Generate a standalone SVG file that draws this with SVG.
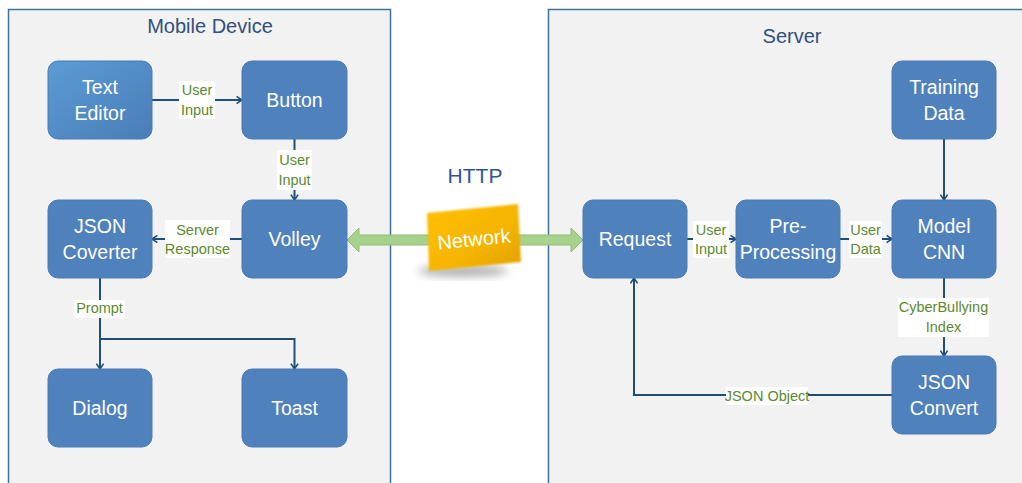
<svg xmlns="http://www.w3.org/2000/svg" width="1022" height="483" viewBox="0 0 1022 483">
<style>
.cont{fill:#F2F2F2;stroke:#41719C;stroke-width:1.5}
.title{font-family:"Liberation Sans",Arial,sans-serif;font-size:20px;fill:#2F5080;text-anchor:middle}
.node{fill:#4F81BD;stroke:#4A7AB3;stroke-width:1}
.nt{font-family:"Liberation Sans",Arial,sans-serif;font-size:19.5px;fill:#FFFFFF;text-anchor:middle}
.edge{fill:none;stroke:#1F4E79;stroke-width:2}
.lbg{fill:#FFFFFF}
.lt{font-family:"Liberation Sans",Arial,sans-serif;font-size:14.5px;fill:#5B8A2E;text-anchor:middle}
</style>
<defs>
<marker id="arr" viewBox="0 0 10 10" refX="9" refY="5" markerWidth="9" markerHeight="9" markerUnits="userSpaceOnUse" orient="auto">
<path d="M3,1 L9,5 L3,9" fill="none" stroke="#1F4E79" stroke-width="1.8"/>
</marker>
<linearGradient id="gTE" x1="0" y1="0" x2="1" y2="1">
<stop offset="0" stop-color="#5B9BD5"/>
<stop offset="1" stop-color="#4A7DB8"/>
</linearGradient>
<linearGradient id="gNet" x1="0" y1="0" x2="1" y2="1">
<stop offset="0" stop-color="#FFC000"/>
<stop offset="0.6" stop-color="#F5B400"/>
<stop offset="1" stop-color="#E0A000"/>
</linearGradient>
<filter id="blur" x="-30%" y="-30%" width="160%" height="160%">
<feGaussianBlur stdDeviation="4"/>
</filter>
<filter id="soft" x="-10%" y="-10%" width="120%" height="120%">
<feGaussianBlur stdDeviation="1"/>
</filter>
</defs>
<rect x="0" y="0" width="1022" height="483" fill="#FFFFFF"/>
<g id="mobile-device">
<rect class="cont" x="8.5" y="9.5" width="382" height="480"/>
<text class="title" x="210" y="33">Mobile Device</text>
</g>
<g id="server">
<rect class="cont" x="548.5" y="9.5" width="480" height="480"/>
<text class="title" x="792" y="43">Server</text>
</g>
<text id="http" class="title" x="475" y="183" style="font-size:21px;fill:#2F5597">HTTP</text>

<g id="connectors">
<path class="edge" d="M152,100 H242" marker-end="url(#arr)"/>
<path class="edge" d="M294.5,139 V200" marker-end="url(#arr)"/>
<path class="edge" d="M242,239 H152" marker-end="url(#arr)"/>
<path class="edge" d="M100,278 V369" marker-end="url(#arr)"/>
<path class="edge" d="M100,339 H294.5 V369" marker-end="url(#arr)"/>
<path class="edge" d="M944,139 V200" marker-end="url(#arr)"/>
<path class="edge" d="M687,239 H736" marker-end="url(#arr)"/>
<path class="edge" d="M840,239 H892" marker-end="url(#arr)"/>
<path class="edge" d="M944,278 V356" marker-end="url(#arr)"/>
<path class="edge" d="M892,395 H634 V278" marker-end="url(#arr)"/>
<path id="network-arrow" d="M347,240 L359,228 L359,235 L571,235 L571,228 L583,240 L571,252 L571,245 L359,245 L359,252 Z" fill="#A9D18E" stroke="#8CBF6E" stroke-width="1"/>

<rect class="lbg" x="179" y="81" width="36" height="38"/>
<text class="lt" x="197" y="95">User</text>
<text class="lt" x="197" y="115">Input</text>
<rect class="lbg" x="277" y="150" width="35" height="40"/>
<text class="lt" x="294.5" y="165">User</text>
<text class="lt" x="294.5" y="185">Input</text>
<rect class="lbg" x="165" y="220" width="65" height="38"/>
<text class="lt" x="197.5" y="235">Server</text>
<text class="lt" x="197.5" y="254">Response</text>
<rect class="lbg" x="74" y="300" width="51" height="18"/>
<text class="lt" x="99.5" y="313">Prompt</text>
<rect class="lbg" x="693" y="221" width="36" height="37"/>
<text class="lt" x="711" y="235">User</text>
<text class="lt" x="711" y="254">Input</text>
<rect class="lbg" x="849" y="221" width="33" height="37"/>
<text class="lt" x="865.5" y="235">User</text>
<text class="lt" x="865.5" y="254">Data</text>
<rect class="lbg" x="898" y="298" width="91" height="39"/>
<text class="lt" x="943.5" y="312">CyberBullying</text>
<text class="lt" x="943.5" y="332">Index</text>
<rect class="lbg" x="726" y="387" width="82" height="18"/>
<text class="lt" x="767" y="401">JSON Object</text>
</g>

<g id="network">
<ellipse cx="463" cy="271" rx="45" ry="6" fill="#808080" opacity="0.6" filter="url(#blur)"/>
<path d="M427,213 L518,204 L521,262 L429,271 Z" fill="url(#gNet)" filter="url(#soft)"/>
<text class="nt" x="474" y="246" transform="rotate(-6 474 240)" style="font-size:20px">Network</text>
</g>

<g id="text-editor">
<rect x="48" y="61" width="104" height="78" rx="10" fill="url(#gTE)" stroke="#4A7AB3"/>
<text class="nt" x="100" y="94">Text</text>
<text class="nt" x="100" y="120">Editor</text>
</g>
<g id="button">
<rect class="node" x="242" y="61" width="105" height="78" rx="10"/>
<text class="nt" x="294.5" y="107">Button</text>
</g>
<g id="json-coverter">
<rect class="node" x="48" y="200" width="104" height="78" rx="10"/>
<text class="nt" x="100" y="233">JSON</text>
<text class="nt" x="100" y="259">Coverter</text>
</g>
<g id="volley">
<rect class="node" x="242" y="200" width="105" height="78" rx="10"/>
<text class="nt" x="294.5" y="246">Volley</text>
</g>
<g id="dialog">
<rect class="node" x="48" y="369" width="104" height="78" rx="10"/>
<text class="nt" x="100" y="415">Dialog</text>
</g>
<g id="toast">
<rect class="node" x="242" y="369" width="105" height="78" rx="10"/>
<text class="nt" x="294.5" y="415">Toast</text>
</g>
<g id="training-data">
<rect class="node" x="892" y="61" width="104" height="78" rx="10"/>
<text class="nt" x="944" y="94">Training</text>
<text class="nt" x="944" y="120">Data</text>
</g>
<g id="request">
<rect class="node" x="583" y="200" width="104" height="78" rx="10"/>
<text class="nt" x="635" y="246">Request</text>
</g>
<g id="pre-processing">
<rect class="node" x="736" y="200" width="104" height="78" rx="10"/>
<text class="nt" x="788" y="233">Pre-</text>
<text class="nt" x="788" y="259">Processing</text>
</g>
<g id="model-cnn">
<rect class="node" x="892" y="200" width="104" height="78" rx="10"/>
<text class="nt" x="944" y="233">Model</text>
<text class="nt" x="944" y="259">CNN</text>
</g>
<g id="json-convert">
<rect class="node" x="892" y="356" width="104" height="78" rx="10"/>
<text class="nt" x="944" y="389">JSON</text>
<text class="nt" x="944" y="415">Convert</text>
</g>
</svg>
